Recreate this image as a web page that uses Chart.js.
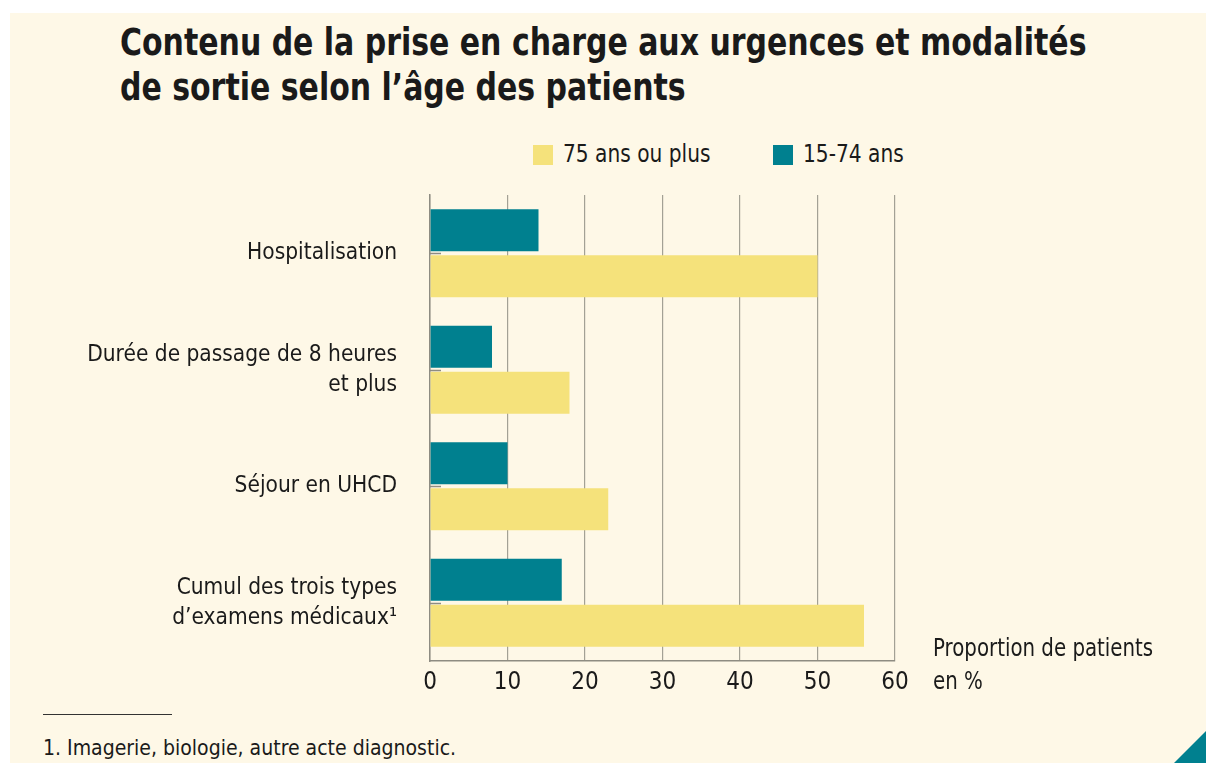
<!DOCTYPE html>
<html><head><meta charset="utf-8">
<script src="https://cdn.jsdelivr.net/npm/chart.js@4/dist/chart.umd.min.js"></script>
<style>
html,body{margin:0;padding:0;background:#fff;}
body{width:1206px;height:763px;position:relative;overflow:hidden;font-family:"Liberation Sans Narrow","DejaVu Sans Condensed","Liberation Sans",sans-serif;color:#1a1a1a;}
#bg{position:absolute;left:10px;top:13px;width:1196px;height:750px;background:#fef8e7;}
#title{position:absolute;left:120px;top:20px;font-weight:bold;font-size:37px;line-height:45px;color:#1a1a1a;white-space:nowrap;transform:scaleX(0.9);transform-origin:0 0;}
.sw{position:absolute;top:145px;width:20px;height:20px;}
.lt{position:absolute;top:139px;font-size:24px;line-height:30px;white-space:nowrap;transform:scaleX(0.935);transform-origin:0 0;}
#axt{position:absolute;left:933px;top:632px;font-size:24px;line-height:33px;white-space:nowrap;transform:scaleX(0.917);transform-origin:0 0;}
#rule{position:absolute;left:43px;top:714px;width:129px;height:1px;background:#333;}
#foot{position:absolute;left:43px;top:735px;font-size:22px;white-space:nowrap;transform:scaleX(0.956);transform-origin:0 0;}
#tri{position:absolute;right:0;bottom:0;width:0;height:0;border-style:solid;border-width:0 0 32px 32px;border-color:transparent transparent #00808f transparent;}
#wrap{position:absolute;left:0;top:185px;width:1000px;height:516px;}
</style></head>
<body>
<div id="bg"></div>
<div id="title">Contenu de la prise en charge aux urgences et modalités<br>de sortie selon l’âge des patients</div>
<div id="legend"></div>
<div id="wrap"><canvas id="c" width="1000" height="516"></canvas></div>
<div id="axt">Proportion de patients<br>en %</div>
<div id="rule"></div>
<div id="foot">1. Imagerie, biologie, autre acte diagnostic.</div>
<div id="tri"></div>
<script>
const categories = [
  "Hospitalisation",
  ["Durée de passage de 8 heures", "et plus"],
  "Séjour en UHCD",
  ["Cumul des trois types", "d’examens médicaux¹"]
];
const seriesNames = ["15-74 ans", "75 ans ou plus"];
const values1574 = [14, 8, 10, 17];
const values75plus = [50, 18, 23, 56];
const xTicks = [0, 10, 20, 30, 40, 50, 60];
const colors = ["#00808f", "#f5e27b"];

const FONT = '"Liberation Sans Narrow","DejaVu Sans Condensed","Liberation Sans",sans-serif';

// HTML legend (order as in reference: 75+ first)
const lg = document.getElementById('legend');
[[seriesNames[1], colors[1], 533], [seriesNames[0], colors[0], 773]].forEach(([n, c, x]) => {
  const sw = document.createElement('div'); sw.className = 'sw'; sw.style.background = c; sw.style.left = x + 'px';
  const t = document.createElement('div'); t.className = 'lt'; t.style.left = (x + 30) + 'px'; t.textContent = n;
  lg.appendChild(sw); lg.appendChild(t);
});

const innerTicks = {
  id: 'innerTicks',
  afterDatasetsDraw(chart) {
    const y = chart.scales.y, ctx = chart.ctx, left = chart.chartArea.left;
    ctx.save(); ctx.strokeStyle = '#8e8c82'; ctx.lineWidth = 1.5;
    y.ticks.forEach((t, i) => {
      const py = Math.round(y.getPixelForTick(i)) + 0.5;
      ctx.beginPath(); ctx.moveTo(left, py); ctx.lineTo(left + 11, py); ctx.stroke();
    });
    ctx.restore();
  }
};

new Chart(document.getElementById('c'), {
  type: 'bar',
  data: {
    labels: categories,
    datasets: [
      { label: seriesNames[0], data: values1574, backgroundColor: colors[0] },
      { label: seriesNames[1], data: values75plus, backgroundColor: colors[1] }
    ]
  },
  options: {
    indexAxis: 'y',
    responsive: false,
    animation: false,
    categoryPercentage: 0.79,
    barPercentage: 0.91,
    layout: { padding: { top: 10, right: 105, left: 0, bottom: 0 } },
    plugins: { legend: { display: false }, tooltip: { enabled: false } },
    scales: {
      x: {
        min: 0, max: 60,
        afterBuildTicks(s) { s.ticks = xTicks.map(v => ({ value: v })); },
        afterFit(s) { s.height = 40; s.paddingLeft = 0; s.paddingRight = 0; },
        grid: { color: '#a3a195', lineWidth: 1.2, drawTicks: false },
        border: { display: true, color: '#8e8c82', width: 1.5 },
        ticks: { color: '#1a1a1a', font: { family: FONT, size: 24 }, padding: 7 }
      },
      y: {
        afterFit(s) { s.width = 430; s.paddingTop = 0; s.paddingBottom = 0; },
        grid: { display: false, drawTicks: false },
        border: { display: true, color: '#8e8c82', width: 1.5 },
        ticks: { color: '#1a1a1a', font: { family: FONT, size: 22.5, lineHeight: 1.33 }, padding: 33 }
      }
    }
  },
  plugins: [innerTicks]
});
</script>
</body></html>
